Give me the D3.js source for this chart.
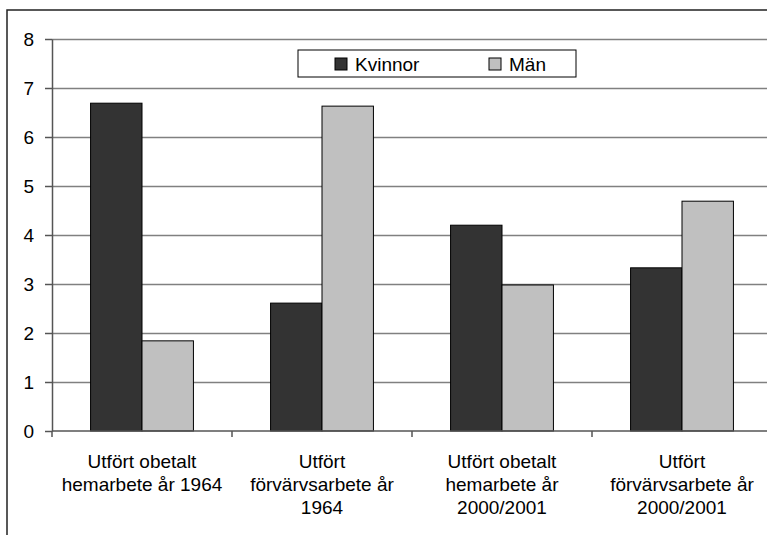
<!DOCTYPE html>
<html>
<head>
<meta charset="utf-8">
<script src="https://cdn.jsdelivr.net/npm/d3@7"></script>
<style>
  body { margin: 0; background: #fff; }
  svg { display: block; font-family: Arial, "Liberation Sans", sans-serif; }
  .grid line { stroke: #808080; stroke-width: 1.5; }
  .grid path { display: none; }
  .axis path, .axis line { stroke: #555; stroke-width: 1.5; }
  .axis text { font-size: 19px; fill: #000; }
  .bar { stroke: #000; stroke-width: 1; }
</style>
</head>
<body>
<div id="chart"></div>
<script>
var categories = [
    ["Utfört obetalt", "hemarbete år 1964"],
    ["Utfört", "förvärvsarbete år", "1964"],
    ["Utfört obetalt", "hemarbete år", "2000/2001"],
    ["Utfört", "förvärvsarbete år", "2000/2001"]
];
var seriesNames = ["Kvinnor", "Män"];
var kvinnor = [6.69, 2.61, 4.2, 3.33];
var man = [1.84, 6.63, 2.98, 4.69];
var yTicks = [0, 1, 2, 3, 4, 5, 6, 7, 8];
var colors = ["#333333", "#c0c0c0"];

var outerWidth = 767, outerHeight = 535;
var margin = {top: 39, left: 52, bottom: 104};
var plotRight = 772; // plot area runs past the window edge

var svg = d3.select("#chart")
    .append("svg")
    .attr("width", outerWidth)
    .attr("height", outerHeight);

// outer chart border (right and bottom are cut off)
svg.append("path")
    .attr("d", "M7," + outerHeight + "V10H" + outerWidth)
    .attr("fill", "none")
    .attr("stroke", "#222")
    .attr("stroke-width", 1.5);

var groupKeys = categories.map((d, i) => i);
var x0 = d3.scaleBand()
    .domain(groupKeys)
    .range([margin.left, plotRight]);

var x1 = d3.scaleBand()
    .domain(seriesNames)
    .range([0, x0.bandwidth()])
    .paddingOuter(0.75);

var y = d3.scaleLinear()
    .domain([0, 8])
    .range([outerHeight - margin.bottom, margin.top]);

// gridlines
svg.append("g")
    .attr("class", "grid")
    .attr("transform", "translate(" + margin.left + ",0)")
    .call(d3.axisLeft(y)
          .tickValues(yTicks.slice(1))
          .tickSize(-(plotRight - margin.left))
          .tickFormat(""));

// bars
var data = groupKeys.map(i => [
    {key: seriesNames[0], value: kvinnor[i]},
    {key: seriesNames[1], value: man[i]}
]);

svg.append("g")
    .selectAll("g")
    .data(data)
    .enter().append("g")
    .attr("transform", (d, i) => "translate(" + x0(i) + ",0)")
    .selectAll("rect")
    .data(d => d)
    .enter().append("rect")
    .attr("class", "bar")
    .attr("x", d => x1(d.key))
    .attr("y", d => y(d.value))
    .attr("width", x1.bandwidth())
    .attr("height", d => y(0) - y(d.value))
    .attr("fill", (d, i) => colors[i]);

// Y axis
var yAxis = svg.append("g")
    .attr("class", "axis")
    .attr("transform", "translate(" + margin.left + ",0)")
    .call(d3.axisLeft(y)
          .tickValues(yTicks)
          .tickSize(7)
          .tickPadding(11)
          .tickSizeOuter(0));
yAxis.selectAll("text").attr("dy", "0.35em");

// X axis with ticks on the category boundaries
var xAxis = svg.append("g")
    .attr("class", "axis")
    .attr("transform", "translate(0," + y(0) + ")");

xAxis.append("line")
    .attr("x1", margin.left)
    .attr("x2", plotRight)
    .attr("stroke", "#222")
    .attr("stroke-width", 1.5);

xAxis.selectAll(".bound")
    .data(groupKeys.concat([groupKeys.length]))
    .enter().append("line")
    .attr("class", "bound")
    .attr("x1", i => margin.left + i * x0.step())
    .attr("x2", i => margin.left + i * x0.step())
    .attr("y1", 0)
    .attr("y2", 6);

xAxis.selectAll(".cat")
    .data(categories)
    .enter().append("text")
    .attr("class", "cat")
    .attr("text-anchor", "middle")
    .attr("x", (d, i) => x0(i) + x0.bandwidth() / 2)
    .attr("y", 37)
    .selectAll("tspan")
    .data(d => d)
    .enter().append("tspan")
    .attr("x", function() { return this.parentNode.getAttribute("x"); })
    .attr("dy", (d, i) => i === 0 ? 0 : 23)
    .text(d => d);

// legend
var legend = svg.append("g")
    .attr("transform", "translate(298,50)");

legend.append("rect")
    .attr("width", 278)
    .attr("height", 27)
    .attr("fill", "#fff")
    .attr("stroke", "#000")
    .attr("stroke-width", 1);

var legendX = [37, 191];
var items = legend.selectAll(".item")
    .data(seriesNames)
    .enter().append("g")
    .attr("transform", (d, i) => "translate(" + legendX[i] + ",0)");

items.append("rect")
    .attr("y", 8)
    .attr("width", 12)
    .attr("height", 12)
    .attr("fill", (d, i) => colors[i])
    .attr("stroke", "#000")
    .attr("stroke-width", 1);

items.append("text")
    .attr("x", 20)
    .attr("y", 21)
    .attr("font-size", 19)
    .text(d => d);
</script>
</body>
</html>
